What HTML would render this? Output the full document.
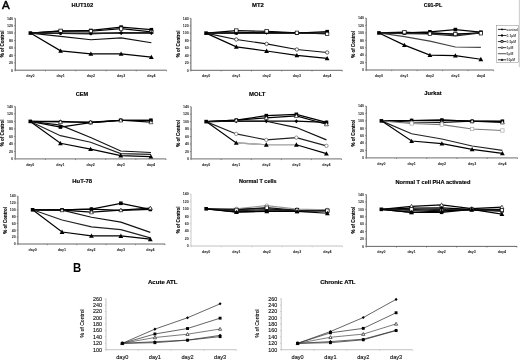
<!DOCTYPE html>
<html><head><meta charset="utf-8"><style>
html,body{margin:0;padding:0;background:#fff;}
svg{display:block;filter:grayscale(1) blur(0.3px);}
text{font-family:"Liberation Sans", sans-serif;}
</style></head><body>
<svg width="520" height="360" viewBox="0 0 520 360">
<rect width="520" height="360" fill="#fff"/>
<path d="M15.25 18.2V70.2" fill="none" stroke="#333" stroke-width="0.8"/>
<path d="M15.25 70.2H166.5" fill="none" stroke="#555" stroke-width="0.9"/>
<path d="M14.05 70.2H15.25" stroke="#555" stroke-width="0.6"/>
<text x="13.05" y="71.5" font-size="3.6" font-weight="bold" text-anchor="end" fill="#222" >0</text>
<path d="M14.05 62.77H15.25" stroke="#555" stroke-width="0.6"/>
<text x="13.05" y="64.07" font-size="3.6" font-weight="bold" text-anchor="end" fill="#222" >20</text>
<path d="M14.05 55.34H15.25" stroke="#555" stroke-width="0.6"/>
<text x="13.05" y="56.64" font-size="3.6" font-weight="bold" text-anchor="end" fill="#222" >40</text>
<path d="M14.05 47.91H15.25" stroke="#555" stroke-width="0.6"/>
<text x="13.05" y="49.21" font-size="3.6" font-weight="bold" text-anchor="end" fill="#222" >60</text>
<path d="M14.05 40.49H15.25" stroke="#555" stroke-width="0.6"/>
<text x="13.05" y="41.79" font-size="3.6" font-weight="bold" text-anchor="end" fill="#222" >80</text>
<path d="M14.05 33.06H15.25" stroke="#555" stroke-width="0.6"/>
<text x="13.05" y="34.36" font-size="3.6" font-weight="bold" text-anchor="end" fill="#222" >100</text>
<path d="M14.05 25.63H15.25" stroke="#555" stroke-width="0.6"/>
<text x="13.05" y="26.93" font-size="3.6" font-weight="bold" text-anchor="end" fill="#222" >120</text>
<path d="M14.05 18.2H15.25" stroke="#555" stroke-width="0.6"/>
<text x="13.05" y="19.5" font-size="3.6" font-weight="bold" text-anchor="end" fill="#222" >140</text>
<path d="M15.25 70.2V71.4" stroke="#555" stroke-width="0.6"/>
<path d="M45.5 70.2V71.4" stroke="#555" stroke-width="0.6"/>
<path d="M75.75 70.2V71.4" stroke="#555" stroke-width="0.6"/>
<path d="M106 70.2V71.4" stroke="#555" stroke-width="0.6"/>
<path d="M136.25 70.2V71.4" stroke="#555" stroke-width="0.6"/>
<path d="M166.5 70.2V71.4" stroke="#555" stroke-width="0.6"/>
<text x="30.38" y="77.1" font-size="3.6" font-weight="bold" text-anchor="middle" fill="#111" >day0</text>
<text x="60.62" y="77.1" font-size="3.6" font-weight="bold" text-anchor="middle" fill="#111" >day1</text>
<text x="90.88" y="77.1" font-size="3.6" font-weight="bold" text-anchor="middle" fill="#111" >day2</text>
<text x="121.12" y="77.1" font-size="3.6" font-weight="bold" text-anchor="middle" fill="#111" >day3</text>
<text x="151.38" y="77.1" font-size="3.6" font-weight="bold" text-anchor="middle" fill="#111" >day4</text>
<text x="71.6" y="7.35" font-size="5.9" font-weight="bold" text-anchor="start" fill="#000" stroke="#000" stroke-width="0.15" textLength="21.6" lengthAdjust="spacingAndGlyphs">HUT102</text>
<text x="4.15" y="44" font-size="4.5" font-weight="bold" text-anchor="middle" fill="#000" transform="rotate(-90 4.15 44)" stroke="#000" stroke-width="0.12">% of Control</text>
<polyline points="30.38,33.06 60.62,33.06 90.88,33.06 121.12,33.06 151.38,33.06" fill="none" stroke="#000" stroke-width="1.25"/>
<polyline points="30.38,33.06 60.62,31.2 90.88,30.46 121.12,27.11 151.38,29.71" fill="none" stroke="#000" stroke-width="1.25"/>
<polyline points="30.38,33.06 60.62,30.83 90.88,31.2 121.12,28.6 151.38,31.94" fill="none" stroke="#000" stroke-width="1.15"/>
<polyline points="30.38,33.06 60.62,36.4 90.88,39.74 121.12,37.89 151.38,42.71" fill="none" stroke="#111" stroke-width="1.15"/>
<polyline points="30.38,33.06 60.62,33.43 90.88,33.8 121.12,32.69 151.38,32.69" fill="none" stroke="#222" stroke-width="1.15"/>
<polyline points="30.38,33.06 60.62,50.89 90.88,53.86 121.12,53.86 151.38,57.2" fill="none" stroke="#000" stroke-width="1.2"/>
<path d="M60.62 31.16L62.52 33.06L60.62 34.96L58.73 33.06Z" fill="#000"/>
<path d="M90.88 31.16L92.78 33.06L90.88 34.96L88.97 33.06Z" fill="#000"/>
<path d="M121.12 31.16L123.03 33.06L121.12 34.96L119.22 33.06Z" fill="#000"/>
<path d="M151.38 31.16L153.28 33.06L151.38 34.96L149.47 33.06Z" fill="#000"/>
<rect x="58.83" y="29.4" width="3.6" height="3.6" fill="#000"/>
<rect x="89.08" y="28.66" width="3.6" height="3.6" fill="#000"/>
<rect x="119.33" y="25.31" width="3.6" height="3.6" fill="#000"/>
<rect x="149.57" y="27.91" width="3.6" height="3.6" fill="#000"/>
<rect x="58.92" y="29.13" width="3.4" height="3.4" fill="#fff" stroke="#000" stroke-width="0.7"/>
<rect x="89.17" y="29.5" width="3.4" height="3.4" fill="#fff" stroke="#000" stroke-width="0.7"/>
<rect x="119.42" y="26.9" width="3.4" height="3.4" fill="#fff" stroke="#000" stroke-width="0.7"/>
<rect x="149.68" y="30.24" width="3.4" height="3.4" fill="#fff" stroke="#000" stroke-width="0.7"/>
<circle cx="60.62" cy="33.43" r="1.5" fill="#000"/>
<circle cx="90.88" cy="33.8" r="1.5" fill="#000"/>
<circle cx="121.12" cy="32.69" r="1.5" fill="#000"/>
<circle cx="151.38" cy="32.69" r="1.5" fill="#000"/>
<path d="M60.62 48.49L63.02 52.81L58.23 52.81Z" fill="#000"/>
<path d="M90.88 51.46L93.28 55.78L88.47 55.78Z" fill="#000"/>
<path d="M121.12 51.46L123.53 55.78L118.72 55.78Z" fill="#000"/>
<path d="M151.38 54.8L153.78 59.12L148.97 59.12Z" fill="#000"/>
<rect x="28.57" y="31.26" width="3.6" height="3.6" fill="#000"/>
<path d="M190.9 18.3V70.3" fill="none" stroke="#333" stroke-width="0.8"/>
<path d="M190.9 70.3H342.3" fill="none" stroke="#555" stroke-width="0.9"/>
<path d="M189.7 70.3H190.9" stroke="#555" stroke-width="0.6"/>
<text x="188.7" y="71.6" font-size="3.6" font-weight="bold" text-anchor="end" fill="#222" >0</text>
<path d="M189.7 62.87H190.9" stroke="#555" stroke-width="0.6"/>
<text x="188.7" y="64.17" font-size="3.6" font-weight="bold" text-anchor="end" fill="#222" >20</text>
<path d="M189.7 55.44H190.9" stroke="#555" stroke-width="0.6"/>
<text x="188.7" y="56.74" font-size="3.6" font-weight="bold" text-anchor="end" fill="#222" >40</text>
<path d="M189.7 48.01H190.9" stroke="#555" stroke-width="0.6"/>
<text x="188.7" y="49.31" font-size="3.6" font-weight="bold" text-anchor="end" fill="#222" >60</text>
<path d="M189.7 40.59H190.9" stroke="#555" stroke-width="0.6"/>
<text x="188.7" y="41.89" font-size="3.6" font-weight="bold" text-anchor="end" fill="#222" >80</text>
<path d="M189.7 33.16H190.9" stroke="#555" stroke-width="0.6"/>
<text x="188.7" y="34.46" font-size="3.6" font-weight="bold" text-anchor="end" fill="#222" >100</text>
<path d="M189.7 25.73H190.9" stroke="#555" stroke-width="0.6"/>
<text x="188.7" y="27.03" font-size="3.6" font-weight="bold" text-anchor="end" fill="#222" >120</text>
<path d="M189.7 18.3H190.9" stroke="#555" stroke-width="0.6"/>
<text x="188.7" y="19.6" font-size="3.6" font-weight="bold" text-anchor="end" fill="#222" >140</text>
<path d="M190.9 70.3V71.5" stroke="#555" stroke-width="0.6"/>
<path d="M221.18 70.3V71.5" stroke="#555" stroke-width="0.6"/>
<path d="M251.46 70.3V71.5" stroke="#555" stroke-width="0.6"/>
<path d="M281.74 70.3V71.5" stroke="#555" stroke-width="0.6"/>
<path d="M312.02 70.3V71.5" stroke="#555" stroke-width="0.6"/>
<path d="M342.3 70.3V71.5" stroke="#555" stroke-width="0.6"/>
<text x="206.04" y="77.2" font-size="3.6" font-weight="bold" text-anchor="middle" fill="#111" >day0</text>
<text x="236.32" y="77.2" font-size="3.6" font-weight="bold" text-anchor="middle" fill="#111" >day1</text>
<text x="266.6" y="77.2" font-size="3.6" font-weight="bold" text-anchor="middle" fill="#111" >day2</text>
<text x="296.88" y="77.2" font-size="3.6" font-weight="bold" text-anchor="middle" fill="#111" >day3</text>
<text x="327.16" y="77.2" font-size="3.6" font-weight="bold" text-anchor="middle" fill="#111" >day4</text>
<text x="252" y="7.35" font-size="5.9" font-weight="bold" text-anchor="start" fill="#000" stroke="#000" stroke-width="0.15" textLength="11.9" lengthAdjust="spacingAndGlyphs">MT2</text>
<text x="179.8" y="43.8" font-size="4.5" font-weight="bold" text-anchor="middle" fill="#000" transform="rotate(-90 179.8 43.8)" stroke="#000" stroke-width="0.12">% of Control</text>
<polyline points="206.04,33.16 236.32,33.16 266.6,32.79 296.88,33.16 327.16,33.16" fill="none" stroke="#000" stroke-width="1.25"/>
<polyline points="206.04,33.16 236.32,32.79 266.6,32.04 296.88,33.16 327.16,31.67" fill="none" stroke="#000" stroke-width="1.25"/>
<polyline points="206.04,33.16 236.32,30.56 266.6,31.3 296.88,32.79 327.16,33.9" fill="none" stroke="#000" stroke-width="1.15"/>
<polyline points="206.04,33.16 236.32,39.47 266.6,43.93 296.88,49.5 327.16,52.47" fill="none" stroke="#111" stroke-width="1.15"/>
<polyline points="206.04,33.16 236.32,33.53 266.6,33.16 296.88,33.53 327.16,33.16" fill="none" stroke="#222" stroke-width="1.15"/>
<polyline points="206.04,33.16 236.32,46.9 266.6,50.99 296.88,55.44 327.16,58.41" fill="none" stroke="#000" stroke-width="1.2"/>
<path d="M236.32 31.26L238.22 33.16L236.32 35.06L234.42 33.16Z" fill="#000"/>
<path d="M266.6 30.89L268.5 32.79L266.6 34.69L264.7 32.79Z" fill="#000"/>
<path d="M296.88 31.26L298.78 33.16L296.88 35.06L294.98 33.16Z" fill="#000"/>
<path d="M327.16 31.26L329.06 33.16L327.16 35.06L325.26 33.16Z" fill="#000"/>
<rect x="234.52" y="30.99" width="3.6" height="3.6" fill="#000"/>
<rect x="264.8" y="30.24" width="3.6" height="3.6" fill="#000"/>
<rect x="295.08" y="31.36" width="3.6" height="3.6" fill="#000"/>
<rect x="325.36" y="29.87" width="3.6" height="3.6" fill="#000"/>
<rect x="234.62" y="28.86" width="3.4" height="3.4" fill="#fff" stroke="#000" stroke-width="0.7"/>
<rect x="264.9" y="29.6" width="3.4" height="3.4" fill="#fff" stroke="#000" stroke-width="0.7"/>
<rect x="295.18" y="31.09" width="3.4" height="3.4" fill="#fff" stroke="#000" stroke-width="0.7"/>
<rect x="325.46" y="32.2" width="3.4" height="3.4" fill="#fff" stroke="#000" stroke-width="0.7"/>
<circle cx="236.32" cy="39.47" r="1.7" fill="#fff" stroke="#000" stroke-width="0.6"/>
<circle cx="266.6" cy="43.93" r="1.7" fill="#fff" stroke="#000" stroke-width="0.6"/>
<circle cx="296.88" cy="49.5" r="1.7" fill="#fff" stroke="#000" stroke-width="0.6"/>
<circle cx="327.16" cy="52.47" r="1.7" fill="#fff" stroke="#000" stroke-width="0.6"/>
<path d="M236.32 44.5L238.72 48.82L233.92 48.82Z" fill="#000"/>
<path d="M266.6 48.59L269 52.91L264.2 52.91Z" fill="#000"/>
<path d="M296.88 53.04L299.28 57.36L294.48 57.36Z" fill="#000"/>
<path d="M327.16 56.01L329.56 60.33L324.76 60.33Z" fill="#000"/>
<rect x="204.24" y="31.36" width="3.6" height="3.6" fill="#000"/>
<path d="M366.2 18.1V70" fill="none" stroke="#333" stroke-width="0.8"/>
<path d="M366.2 70H493.6" fill="none" stroke="#555" stroke-width="0.9"/>
<path d="M365 70H366.2" stroke="#555" stroke-width="0.6"/>
<text x="364" y="71.3" font-size="3.6" font-weight="bold" text-anchor="end" fill="#222" >0</text>
<path d="M365 62.59H366.2" stroke="#555" stroke-width="0.6"/>
<text x="364" y="63.89" font-size="3.6" font-weight="bold" text-anchor="end" fill="#222" >20</text>
<path d="M365 55.17H366.2" stroke="#555" stroke-width="0.6"/>
<text x="364" y="56.47" font-size="3.6" font-weight="bold" text-anchor="end" fill="#222" >40</text>
<path d="M365 47.76H366.2" stroke="#555" stroke-width="0.6"/>
<text x="364" y="49.06" font-size="3.6" font-weight="bold" text-anchor="end" fill="#222" >60</text>
<path d="M365 40.34H366.2" stroke="#555" stroke-width="0.6"/>
<text x="364" y="41.64" font-size="3.6" font-weight="bold" text-anchor="end" fill="#222" >80</text>
<path d="M365 32.93H366.2" stroke="#555" stroke-width="0.6"/>
<text x="364" y="34.23" font-size="3.6" font-weight="bold" text-anchor="end" fill="#222" >100</text>
<path d="M365 25.51H366.2" stroke="#555" stroke-width="0.6"/>
<text x="364" y="26.81" font-size="3.6" font-weight="bold" text-anchor="end" fill="#222" >120</text>
<path d="M365 18.1H366.2" stroke="#555" stroke-width="0.6"/>
<text x="364" y="19.4" font-size="3.6" font-weight="bold" text-anchor="end" fill="#222" >140</text>
<path d="M366.2 70V71.2" stroke="#555" stroke-width="0.6"/>
<path d="M391.68 70V71.2" stroke="#555" stroke-width="0.6"/>
<path d="M417.16 70V71.2" stroke="#555" stroke-width="0.6"/>
<path d="M442.64 70V71.2" stroke="#555" stroke-width="0.6"/>
<path d="M468.12 70V71.2" stroke="#555" stroke-width="0.6"/>
<path d="M493.6 70V71.2" stroke="#555" stroke-width="0.6"/>
<text x="378.94" y="76.9" font-size="3.6" font-weight="bold" text-anchor="middle" fill="#111" >day0</text>
<text x="404.42" y="76.9" font-size="3.6" font-weight="bold" text-anchor="middle" fill="#111" >day1</text>
<text x="429.9" y="76.9" font-size="3.6" font-weight="bold" text-anchor="middle" fill="#111" >day2</text>
<text x="455.38" y="76.9" font-size="3.6" font-weight="bold" text-anchor="middle" fill="#111" >day3</text>
<text x="480.86" y="76.9" font-size="3.6" font-weight="bold" text-anchor="middle" fill="#111" >day4</text>
<text x="423.8" y="7.35" font-size="5.9" font-weight="bold" text-anchor="start" fill="#000" stroke="#000" stroke-width="0.15" textLength="18.4" lengthAdjust="spacingAndGlyphs">C91-PL</text>
<text x="355.1" y="44.3" font-size="4.5" font-weight="bold" text-anchor="middle" fill="#000" transform="rotate(-90 355.1 44.3)" stroke="#000" stroke-width="0.12">% of Control</text>
<polyline points="378.94,32.93 404.42,32.93 429.9,32.56 455.38,34.41 480.86,32.56" fill="none" stroke="#000" stroke-width="1.25"/>
<polyline points="378.94,32.93 404.42,32.93 429.9,31.82 455.38,29.59 480.86,32.19" fill="none" stroke="#000" stroke-width="1.25"/>
<polyline points="378.94,32.93 404.42,32.19 429.9,33.67 455.38,34.04 480.86,33.3" fill="none" stroke="#000" stroke-width="1.15"/>
<polyline points="378.94,32.93 404.42,36.64 429.9,41.08 455.38,47.02 480.86,47.39" fill="none" stroke="#444" stroke-width="1.15"/>
<polyline points="378.94,32.93 404.42,33.67 429.9,34.04 455.38,35.89 480.86,32.93" fill="none" stroke="#222" stroke-width="1.15"/>
<polyline points="378.94,32.93 404.42,45.16 429.9,55.17 455.38,55.54 480.86,59.25" fill="none" stroke="#000" stroke-width="1.2"/>
<path d="M404.42 31.03L406.32 32.93L404.42 34.83L402.52 32.93Z" fill="#000"/>
<path d="M429.9 30.66L431.8 32.56L429.9 34.46L428 32.56Z" fill="#000"/>
<path d="M455.38 32.51L457.28 34.41L455.38 36.31L453.48 34.41Z" fill="#000"/>
<path d="M480.86 30.66L482.76 32.56L480.86 34.46L478.96 32.56Z" fill="#000"/>
<rect x="402.62" y="31.13" width="3.6" height="3.6" fill="#000"/>
<rect x="428.1" y="30.02" width="3.6" height="3.6" fill="#000"/>
<rect x="453.58" y="27.79" width="3.6" height="3.6" fill="#000"/>
<rect x="479.06" y="30.39" width="3.6" height="3.6" fill="#000"/>
<rect x="402.72" y="30.49" width="3.4" height="3.4" fill="#fff" stroke="#000" stroke-width="0.7"/>
<rect x="428.2" y="31.97" width="3.4" height="3.4" fill="#fff" stroke="#000" stroke-width="0.7"/>
<rect x="453.68" y="32.34" width="3.4" height="3.4" fill="#fff" stroke="#000" stroke-width="0.7"/>
<rect x="479.16" y="31.6" width="3.4" height="3.4" fill="#fff" stroke="#000" stroke-width="0.7"/>
<path d="M404.42 42.76L406.82 47.08L402.02 47.08Z" fill="#000"/>
<path d="M429.9 52.77L432.3 57.09L427.5 57.09Z" fill="#000"/>
<path d="M455.38 53.14L457.78 57.46L452.98 57.46Z" fill="#000"/>
<path d="M480.86 56.85L483.26 61.17L478.46 61.17Z" fill="#000"/>
<rect x="377.14" y="31.13" width="3.6" height="3.6" fill="#000"/>
<path d="M15.2 106.4V158.9" fill="none" stroke="#333" stroke-width="0.8"/>
<path d="M15.2 158.9H166" fill="none" stroke="#8a8a8a" stroke-width="1.4"/>
<path d="M14 158.9H15.2" stroke="#555" stroke-width="0.6"/>
<text x="13" y="160.2" font-size="3.6" font-weight="bold" text-anchor="end" fill="#222" >0</text>
<path d="M14 151.4H15.2" stroke="#555" stroke-width="0.6"/>
<text x="13" y="152.7" font-size="3.6" font-weight="bold" text-anchor="end" fill="#222" >20</text>
<path d="M14 143.9H15.2" stroke="#555" stroke-width="0.6"/>
<text x="13" y="145.2" font-size="3.6" font-weight="bold" text-anchor="end" fill="#222" >40</text>
<path d="M14 136.4H15.2" stroke="#555" stroke-width="0.6"/>
<text x="13" y="137.7" font-size="3.6" font-weight="bold" text-anchor="end" fill="#222" >60</text>
<path d="M14 128.9H15.2" stroke="#555" stroke-width="0.6"/>
<text x="13" y="130.2" font-size="3.6" font-weight="bold" text-anchor="end" fill="#222" >80</text>
<path d="M14 121.4H15.2" stroke="#555" stroke-width="0.6"/>
<text x="13" y="122.7" font-size="3.6" font-weight="bold" text-anchor="end" fill="#222" >100</text>
<path d="M14 113.9H15.2" stroke="#555" stroke-width="0.6"/>
<text x="13" y="115.2" font-size="3.6" font-weight="bold" text-anchor="end" fill="#222" >120</text>
<path d="M14 106.4H15.2" stroke="#555" stroke-width="0.6"/>
<text x="13" y="107.7" font-size="3.6" font-weight="bold" text-anchor="end" fill="#222" >140</text>
<path d="M15.2 158.9V160.1" stroke="#555" stroke-width="0.6"/>
<path d="M45.36 158.9V160.1" stroke="#555" stroke-width="0.6"/>
<path d="M75.52 158.9V160.1" stroke="#555" stroke-width="0.6"/>
<path d="M105.68 158.9V160.1" stroke="#555" stroke-width="0.6"/>
<path d="M135.84 158.9V160.1" stroke="#555" stroke-width="0.6"/>
<path d="M166 158.9V160.1" stroke="#555" stroke-width="0.6"/>
<text x="30.28" y="165.8" font-size="3.6" font-weight="bold" text-anchor="middle" fill="#111" >day0</text>
<text x="60.44" y="165.8" font-size="3.6" font-weight="bold" text-anchor="middle" fill="#111" >day1</text>
<text x="90.6" y="165.8" font-size="3.6" font-weight="bold" text-anchor="middle" fill="#111" >day2</text>
<text x="120.76" y="165.8" font-size="3.6" font-weight="bold" text-anchor="middle" fill="#111" >day3</text>
<text x="150.92" y="165.8" font-size="3.6" font-weight="bold" text-anchor="middle" fill="#111" >day4</text>
<text x="75.8" y="95.9" font-size="5.9" font-weight="bold" text-anchor="start" fill="#000" stroke="#000" stroke-width="0.15" textLength="12.4" lengthAdjust="spacingAndGlyphs">CEM</text>
<text x="4.1" y="133" font-size="4.5" font-weight="bold" text-anchor="middle" fill="#000" transform="rotate(-90 4.1 133)" stroke="#000" stroke-width="0.12">% of Control</text>
<polyline points="30.28,121.4 60.44,121.4 90.6,122.53 120.76,120.28 150.92,120.28" fill="none" stroke="#000" stroke-width="1.25"/>
<polyline points="30.28,121.4 60.44,127.03 90.6,122.53 120.76,120.28 150.92,120.28" fill="none" stroke="#000" stroke-width="1.25"/>
<polyline points="30.28,121.4 60.44,121.96 90.6,122.15 120.76,120.28 150.92,122.15" fill="none" stroke="#000" stroke-width="1.15"/>
<polyline points="30.28,121.4 60.44,125.15 90.6,137.53 120.76,151.03 150.92,152.53" fill="none" stroke="#111" stroke-width="1.15"/>
<polyline points="30.28,121.4 60.44,135.65 90.6,142.18 120.76,153.65 150.92,154.4" fill="none" stroke="#222" stroke-width="1.15"/>
<polyline points="30.28,121.4 60.44,143.3 90.6,149.15 120.76,155.53 150.92,156.65" fill="none" stroke="#000" stroke-width="1.2"/>
<path d="M60.44 119.5L62.34 121.4L60.44 123.3L58.54 121.4Z" fill="#000"/>
<path d="M90.6 120.62L92.5 122.53L90.6 124.43L88.7 122.53Z" fill="#000"/>
<path d="M120.76 118.38L122.66 120.28L120.76 122.18L118.86 120.28Z" fill="#000"/>
<path d="M150.92 118.38L152.82 120.28L150.92 122.18L149.02 120.28Z" fill="#000"/>
<rect x="58.64" y="125.23" width="3.6" height="3.6" fill="#000"/>
<rect x="88.8" y="120.73" width="3.6" height="3.6" fill="#000"/>
<rect x="118.96" y="118.48" width="3.6" height="3.6" fill="#000"/>
<rect x="149.12" y="118.48" width="3.6" height="3.6" fill="#000"/>
<path d="M60.44 119.96L62.44 123.56L58.44 123.56Z" fill="#fff" stroke="#000" stroke-width="0.6"/>
<path d="M90.6 120.15L92.6 123.75L88.6 123.75Z" fill="#fff" stroke="#000" stroke-width="0.6"/>
<path d="M120.76 118.28L122.76 121.88L118.76 121.88Z" fill="#fff" stroke="#000" stroke-width="0.6"/>
<path d="M150.92 120.15L152.92 123.75L148.92 123.75Z" fill="#fff" stroke="#000" stroke-width="0.6"/>
<path d="M60.44 140.9L62.84 145.22L58.04 145.22Z" fill="#000"/>
<path d="M90.6 146.75L93 151.07L88.2 151.07Z" fill="#000"/>
<path d="M120.76 153.12L123.16 157.44L118.36 157.44Z" fill="#000"/>
<path d="M150.92 154.25L153.32 158.57L148.52 158.57Z" fill="#000"/>
<rect x="28.48" y="119.6" width="3.6" height="3.6" fill="#000"/>
<path d="M191.1 106.7V158.9" fill="none" stroke="#333" stroke-width="0.8"/>
<path d="M191.1 158.9H341.5" fill="none" stroke="#8a8a8a" stroke-width="1.4"/>
<path d="M189.9 158.9H191.1" stroke="#555" stroke-width="0.6"/>
<text x="188.9" y="160.2" font-size="3.6" font-weight="bold" text-anchor="end" fill="#222" >0</text>
<path d="M189.9 151.44H191.1" stroke="#555" stroke-width="0.6"/>
<text x="188.9" y="152.74" font-size="3.6" font-weight="bold" text-anchor="end" fill="#222" >20</text>
<path d="M189.9 143.99H191.1" stroke="#555" stroke-width="0.6"/>
<text x="188.9" y="145.29" font-size="3.6" font-weight="bold" text-anchor="end" fill="#222" >40</text>
<path d="M189.9 136.53H191.1" stroke="#555" stroke-width="0.6"/>
<text x="188.9" y="137.83" font-size="3.6" font-weight="bold" text-anchor="end" fill="#222" >60</text>
<path d="M189.9 129.07H191.1" stroke="#555" stroke-width="0.6"/>
<text x="188.9" y="130.37" font-size="3.6" font-weight="bold" text-anchor="end" fill="#222" >80</text>
<path d="M189.9 121.61H191.1" stroke="#555" stroke-width="0.6"/>
<text x="188.9" y="122.91" font-size="3.6" font-weight="bold" text-anchor="end" fill="#222" >100</text>
<path d="M189.9 114.16H191.1" stroke="#555" stroke-width="0.6"/>
<text x="188.9" y="115.46" font-size="3.6" font-weight="bold" text-anchor="end" fill="#222" >120</text>
<path d="M189.9 106.7H191.1" stroke="#555" stroke-width="0.6"/>
<text x="188.9" y="108" font-size="3.6" font-weight="bold" text-anchor="end" fill="#222" >140</text>
<path d="M191.1 158.9V160.1" stroke="#555" stroke-width="0.6"/>
<path d="M221.18 158.9V160.1" stroke="#555" stroke-width="0.6"/>
<path d="M251.26 158.9V160.1" stroke="#555" stroke-width="0.6"/>
<path d="M281.34 158.9V160.1" stroke="#555" stroke-width="0.6"/>
<path d="M311.42 158.9V160.1" stroke="#555" stroke-width="0.6"/>
<path d="M341.5 158.9V160.1" stroke="#555" stroke-width="0.6"/>
<text x="206.14" y="165.8" font-size="3.6" font-weight="bold" text-anchor="middle" fill="#111" >day0</text>
<text x="236.22" y="165.8" font-size="3.6" font-weight="bold" text-anchor="middle" fill="#111" >day1</text>
<text x="266.3" y="165.8" font-size="3.6" font-weight="bold" text-anchor="middle" fill="#111" >day2</text>
<text x="296.38" y="165.8" font-size="3.6" font-weight="bold" text-anchor="middle" fill="#111" >day3</text>
<text x="326.46" y="165.8" font-size="3.6" font-weight="bold" text-anchor="middle" fill="#111" >day4</text>
<text x="249.1" y="95.6" font-size="5.9" font-weight="bold" text-anchor="start" fill="#000" stroke="#000" stroke-width="0.15" textLength="16.4" lengthAdjust="spacingAndGlyphs">MOLT</text>
<text x="180" y="133.4" font-size="4.5" font-weight="bold" text-anchor="middle" fill="#000" transform="rotate(-90 180 133.4)" stroke="#000" stroke-width="0.12">% of Control</text>
<polyline points="206.14,121.61 236.22,121.24 266.3,121.24 296.38,121.24 326.46,122.36" fill="none" stroke="#000" stroke-width="1.25"/>
<polyline points="206.14,121.61 236.22,120.12 266.3,115.65 296.38,114.34 326.46,122.36" fill="none" stroke="#000" stroke-width="1.25"/>
<polyline points="206.14,121.61 236.22,120.12 266.3,117.89 296.38,115.84 326.46,124.22" fill="none" stroke="#000" stroke-width="1.15"/>
<polyline points="206.14,121.61 236.22,121.24 266.3,121.24 296.38,127.58 326.46,139.88" fill="none" stroke="#111" stroke-width="1.15"/>
<polyline points="206.14,121.61 236.22,133.92 266.3,139.88 296.38,137.65 326.46,145.85" fill="none" stroke="#222" stroke-width="1.15"/>
<polyline points="206.14,121.61 236.22,142.87 266.3,144.73 296.38,144.73 326.46,153.68" fill="none" stroke="#000" stroke-width="1.2"/>
<polyline points="236.22,142.87 266.3,144.73 296.38,144.73" fill="none" stroke="#fff" stroke-width="1.3"/>
<polyline points="236.22,142.87 266.3,144.73 296.38,144.73" fill="none" stroke="#888" stroke-width="0.8"/>
<path d="M236.22 119.34L238.12 121.24L236.22 123.14L234.32 121.24Z" fill="#000"/>
<path d="M266.3 119.34L268.2 121.24L266.3 123.14L264.4 121.24Z" fill="#000"/>
<path d="M296.38 119.34L298.28 121.24L296.38 123.14L294.48 121.24Z" fill="#000"/>
<path d="M326.46 120.46L328.36 122.36L326.46 124.26L324.56 122.36Z" fill="#000"/>
<rect x="234.42" y="118.32" width="3.6" height="3.6" fill="#000"/>
<rect x="264.5" y="113.85" width="3.6" height="3.6" fill="#000"/>
<rect x="294.58" y="112.54" width="3.6" height="3.6" fill="#000"/>
<rect x="324.66" y="120.56" width="3.6" height="3.6" fill="#000"/>
<path d="M236.22 118.12L238.22 121.72L234.22 121.72Z" fill="#fff" stroke="#000" stroke-width="0.6"/>
<path d="M266.3 115.89L268.3 119.49L264.3 119.49Z" fill="#fff" stroke="#000" stroke-width="0.6"/>
<path d="M296.38 113.84L298.38 117.44L294.38 117.44Z" fill="#fff" stroke="#000" stroke-width="0.6"/>
<path d="M326.46 122.22L328.46 125.82L324.46 125.82Z" fill="#fff" stroke="#000" stroke-width="0.6"/>
<circle cx="236.22" cy="133.92" r="1.7" fill="#fff" stroke="#555" stroke-width="0.6"/>
<circle cx="266.3" cy="139.88" r="1.7" fill="#fff" stroke="#555" stroke-width="0.6"/>
<circle cx="296.38" cy="137.65" r="1.7" fill="#fff" stroke="#555" stroke-width="0.6"/>
<circle cx="326.46" cy="145.85" r="1.7" fill="#fff" stroke="#555" stroke-width="0.6"/>
<path d="M236.22 140.47L238.62 144.79L233.82 144.79Z" fill="#000"/>
<path d="M266.3 142.33L268.7 146.65L263.9 146.65Z" fill="#000"/>
<path d="M296.38 142.33L298.78 146.65L293.98 146.65Z" fill="#000"/>
<path d="M326.46 151.28L328.86 155.6L324.06 155.6Z" fill="#000"/>
<rect x="204.34" y="119.81" width="3.6" height="3.6" fill="#000"/>
<path d="M366.25 106.1V157.8" fill="none" stroke="#333" stroke-width="0.8"/>
<path d="M366.25 157.8H517.5" fill="none" stroke="#8a8a8a" stroke-width="1.3"/>
<path d="M365.05 157.8H366.25" stroke="#555" stroke-width="0.6"/>
<text x="364.05" y="159.1" font-size="3.6" font-weight="bold" text-anchor="end" fill="#222" >0</text>
<path d="M365.05 150.41H366.25" stroke="#555" stroke-width="0.6"/>
<text x="364.05" y="151.71" font-size="3.6" font-weight="bold" text-anchor="end" fill="#222" >20</text>
<path d="M365.05 143.03H366.25" stroke="#555" stroke-width="0.6"/>
<text x="364.05" y="144.33" font-size="3.6" font-weight="bold" text-anchor="end" fill="#222" >40</text>
<path d="M365.05 135.64H366.25" stroke="#555" stroke-width="0.6"/>
<text x="364.05" y="136.94" font-size="3.6" font-weight="bold" text-anchor="end" fill="#222" >60</text>
<path d="M365.05 128.26H366.25" stroke="#555" stroke-width="0.6"/>
<text x="364.05" y="129.56" font-size="3.6" font-weight="bold" text-anchor="end" fill="#222" >80</text>
<path d="M365.05 120.87H366.25" stroke="#555" stroke-width="0.6"/>
<text x="364.05" y="122.17" font-size="3.6" font-weight="bold" text-anchor="end" fill="#222" >100</text>
<path d="M365.05 113.49H366.25" stroke="#555" stroke-width="0.6"/>
<text x="364.05" y="114.79" font-size="3.6" font-weight="bold" text-anchor="end" fill="#222" >120</text>
<path d="M365.05 106.1H366.25" stroke="#555" stroke-width="0.6"/>
<text x="364.05" y="107.4" font-size="3.6" font-weight="bold" text-anchor="end" fill="#222" >140</text>
<path d="M366.25 157.8V159" stroke="#555" stroke-width="0.6"/>
<path d="M396.5 157.8V159" stroke="#555" stroke-width="0.6"/>
<path d="M426.75 157.8V159" stroke="#555" stroke-width="0.6"/>
<path d="M457 157.8V159" stroke="#555" stroke-width="0.6"/>
<path d="M487.25 157.8V159" stroke="#555" stroke-width="0.6"/>
<path d="M517.5 157.8V159" stroke="#555" stroke-width="0.6"/>
<text x="381.38" y="164.7" font-size="3.6" font-weight="bold" text-anchor="middle" fill="#111" >day0</text>
<text x="411.62" y="164.7" font-size="3.6" font-weight="bold" text-anchor="middle" fill="#111" >day1</text>
<text x="441.88" y="164.7" font-size="3.6" font-weight="bold" text-anchor="middle" fill="#111" >day2</text>
<text x="472.12" y="164.7" font-size="3.6" font-weight="bold" text-anchor="middle" fill="#111" >day3</text>
<text x="502.38" y="164.7" font-size="3.6" font-weight="bold" text-anchor="middle" fill="#111" >day4</text>
<text x="424.3" y="95.15" font-size="5.9" font-weight="bold" text-anchor="start" fill="#000" stroke="#000" stroke-width="0.15" textLength="17.4" lengthAdjust="spacingAndGlyphs">Jurkat</text>
<text x="355.15" y="133" font-size="4.5" font-weight="bold" text-anchor="middle" fill="#000" transform="rotate(-90 355.15 133)" stroke="#000" stroke-width="0.12">% of Control</text>
<polyline points="381.38,120.87 411.62,120.5 441.88,120.13 472.12,121.24 502.38,121.61" fill="none" stroke="#000" stroke-width="1.25"/>
<polyline points="381.38,120.87 411.62,120.5 441.88,120.13 472.12,121.24 502.38,121.24" fill="none" stroke="#000" stroke-width="1.25"/>
<polyline points="381.38,120.87 411.62,121.98 441.88,122.35 472.12,121.24 502.38,122.35" fill="none" stroke="#000" stroke-width="1.15"/>
<polyline points="381.38,120.87 411.62,123.46 441.88,124.56 472.12,129 502.38,130.47" fill="none" stroke="#777" stroke-width="1.15"/>
<polyline points="381.38,120.87 411.62,133.8 441.88,138.97 472.12,145.98 502.38,150.41" fill="none" stroke="#222" stroke-width="1.15"/>
<polyline points="381.38,120.87 411.62,141.03 441.88,143.62 472.12,149.31 502.38,153.37" fill="none" stroke="#000" stroke-width="1.2"/>
<path d="M411.62 118.6L413.52 120.5L411.62 122.4L409.73 120.5Z" fill="#000"/>
<path d="M441.88 118.23L443.77 120.13L441.88 122.03L439.98 120.13Z" fill="#000"/>
<path d="M472.12 119.34L474.02 121.24L472.12 123.14L470.23 121.24Z" fill="#000"/>
<path d="M502.38 119.71L504.27 121.61L502.38 123.51L500.48 121.61Z" fill="#000"/>
<rect x="409.82" y="118.7" width="3.6" height="3.6" fill="#000"/>
<rect x="440.07" y="118.33" width="3.6" height="3.6" fill="#000"/>
<rect x="470.32" y="119.44" width="3.6" height="3.6" fill="#000"/>
<rect x="500.57" y="119.44" width="3.6" height="3.6" fill="#000"/>
<path d="M411.62 119.98L413.62 123.58L409.62 123.58Z" fill="#fff" stroke="#000" stroke-width="0.6"/>
<path d="M441.88 120.35L443.88 123.95L439.88 123.95Z" fill="#fff" stroke="#000" stroke-width="0.6"/>
<path d="M472.12 119.24L474.12 122.84L470.12 122.84Z" fill="#fff" stroke="#000" stroke-width="0.6"/>
<path d="M502.38 120.35L504.38 123.95L500.38 123.95Z" fill="#fff" stroke="#000" stroke-width="0.6"/>
<rect x="409.93" y="121.76" width="3.4" height="3.4" fill="#fff" stroke="#aaa" stroke-width="0.7"/>
<rect x="440.18" y="122.86" width="3.4" height="3.4" fill="#fff" stroke="#aaa" stroke-width="0.7"/>
<rect x="470.43" y="127.3" width="3.4" height="3.4" fill="#fff" stroke="#aaa" stroke-width="0.7"/>
<rect x="500.68" y="128.77" width="3.4" height="3.4" fill="#fff" stroke="#aaa" stroke-width="0.7"/>
<path d="M411.62 138.63L414.02 142.95L409.23 142.95Z" fill="#000"/>
<path d="M441.88 141.22L444.27 145.54L439.48 145.54Z" fill="#000"/>
<path d="M472.12 146.91L474.52 151.23L469.73 151.23Z" fill="#000"/>
<path d="M502.38 150.97L504.77 155.29L499.98 155.29Z" fill="#000"/>
<rect x="379.57" y="119.07" width="3.6" height="3.6" fill="#000"/>
<path d="M17.9 196.1V244" fill="none" stroke="#333" stroke-width="0.8"/>
<path d="M17.9 244H165" fill="none" stroke="#555" stroke-width="0.9"/>
<path d="M16.7 244H17.9" stroke="#555" stroke-width="0.6"/>
<text x="15.7" y="245.3" font-size="3.6" font-weight="bold" text-anchor="end" fill="#222" >0</text>
<path d="M16.7 237.16H17.9" stroke="#555" stroke-width="0.6"/>
<text x="15.7" y="238.46" font-size="3.6" font-weight="bold" text-anchor="end" fill="#222" >20</text>
<path d="M16.7 230.31H17.9" stroke="#555" stroke-width="0.6"/>
<text x="15.7" y="231.61" font-size="3.6" font-weight="bold" text-anchor="end" fill="#222" >40</text>
<path d="M16.7 223.47H17.9" stroke="#555" stroke-width="0.6"/>
<text x="15.7" y="224.77" font-size="3.6" font-weight="bold" text-anchor="end" fill="#222" >60</text>
<path d="M16.7 216.63H17.9" stroke="#555" stroke-width="0.6"/>
<text x="15.7" y="217.93" font-size="3.6" font-weight="bold" text-anchor="end" fill="#222" >80</text>
<path d="M16.7 209.79H17.9" stroke="#555" stroke-width="0.6"/>
<text x="15.7" y="211.09" font-size="3.6" font-weight="bold" text-anchor="end" fill="#222" >100</text>
<path d="M16.7 202.94H17.9" stroke="#555" stroke-width="0.6"/>
<text x="15.7" y="204.24" font-size="3.6" font-weight="bold" text-anchor="end" fill="#222" >120</text>
<path d="M16.7 196.1H17.9" stroke="#555" stroke-width="0.6"/>
<text x="15.7" y="197.4" font-size="3.6" font-weight="bold" text-anchor="end" fill="#222" >140</text>
<path d="M17.9 244V245.2" stroke="#555" stroke-width="0.6"/>
<path d="M47.32 244V245.2" stroke="#555" stroke-width="0.6"/>
<path d="M76.74 244V245.2" stroke="#555" stroke-width="0.6"/>
<path d="M106.16 244V245.2" stroke="#555" stroke-width="0.6"/>
<path d="M135.58 244V245.2" stroke="#555" stroke-width="0.6"/>
<path d="M165 244V245.2" stroke="#555" stroke-width="0.6"/>
<text x="32.61" y="250.9" font-size="3.6" font-weight="bold" text-anchor="middle" fill="#111" >day0</text>
<text x="62.03" y="250.9" font-size="3.6" font-weight="bold" text-anchor="middle" fill="#111" >day1</text>
<text x="91.45" y="250.9" font-size="3.6" font-weight="bold" text-anchor="middle" fill="#111" >day2</text>
<text x="120.87" y="250.9" font-size="3.6" font-weight="bold" text-anchor="middle" fill="#111" >day3</text>
<text x="150.29" y="250.9" font-size="3.6" font-weight="bold" text-anchor="middle" fill="#111" >day4</text>
<text x="72.3" y="183.35" font-size="5.9" font-weight="bold" text-anchor="start" fill="#000" stroke="#000" stroke-width="0.15" textLength="19.7" lengthAdjust="spacingAndGlyphs">HuT-78</text>
<text x="6.8" y="220.5" font-size="4.5" font-weight="bold" text-anchor="middle" fill="#000" transform="rotate(-90 6.8 220.5)" stroke="#000" stroke-width="0.12">% of Control</text>
<polyline points="32.61,209.79 62.03,209.79 91.45,209.1 120.87,210.47 150.29,209.44" fill="none" stroke="#000" stroke-width="1.25"/>
<polyline points="32.61,209.79 62.03,209.79 91.45,209.1 120.87,203.28 150.29,209.44" fill="none" stroke="#000" stroke-width="1.25"/>
<polyline points="32.61,209.79 62.03,210.13 91.45,212.18 120.87,210.13 150.29,208.07" fill="none" stroke="#000" stroke-width="1.15"/>
<polyline points="32.61,209.79 62.03,210.13 91.45,217.31 120.87,222.1 150.29,232.37" fill="none" stroke="#111" stroke-width="1.15"/>
<polyline points="32.61,209.79 62.03,220.05 91.45,226.89 120.87,229.63 150.29,237.84" fill="none" stroke="#222" stroke-width="1.15"/>
<polyline points="32.61,209.79 62.03,232.03 91.45,235.79 120.87,235.96 150.29,239.21" fill="none" stroke="#000" stroke-width="1.2"/>
<path d="M62.03 207.89L63.93 209.79L62.03 211.69L60.13 209.79Z" fill="#000"/>
<path d="M91.45 207.2L93.35 209.1L91.45 211L89.55 209.1Z" fill="#000"/>
<path d="M120.87 208.57L122.77 210.47L120.87 212.37L118.97 210.47Z" fill="#000"/>
<path d="M150.29 207.54L152.19 209.44L150.29 211.34L148.39 209.44Z" fill="#000"/>
<rect x="60.23" y="207.99" width="3.6" height="3.6" fill="#000"/>
<rect x="89.65" y="207.3" width="3.6" height="3.6" fill="#000"/>
<rect x="119.07" y="201.48" width="3.6" height="3.6" fill="#000"/>
<rect x="148.49" y="207.64" width="3.6" height="3.6" fill="#000"/>
<path d="M62.03 208.13L64.03 211.73L60.03 211.73Z" fill="#fff" stroke="#000" stroke-width="0.6"/>
<path d="M91.45 210.18L93.45 213.78L89.45 213.78Z" fill="#fff" stroke="#000" stroke-width="0.6"/>
<path d="M120.87 208.13L122.87 211.73L118.87 211.73Z" fill="#fff" stroke="#000" stroke-width="0.6"/>
<path d="M150.29 206.07L152.29 209.67L148.29 209.67Z" fill="#fff" stroke="#000" stroke-width="0.6"/>
<path d="M62.03 229.62L64.43 233.94L59.63 233.94Z" fill="#000"/>
<path d="M91.45 233.39L93.85 237.71L89.05 237.71Z" fill="#000"/>
<path d="M120.87 233.56L123.27 237.88L118.47 237.88Z" fill="#000"/>
<path d="M150.29 236.81L152.69 241.13L147.89 241.13Z" fill="#000"/>
<rect x="30.81" y="207.99" width="3.6" height="3.6" fill="#000"/>
<path d="M191 193.9V246" fill="none" stroke="#bbb" stroke-width="0.8"/>
<path d="M191 246H342.5" fill="none" stroke="#bbb" stroke-width="0.9"/>
<path d="M189.8 246H191" stroke="#bbb" stroke-width="0.6"/>
<text x="188.8" y="247.3" font-size="3.6" font-weight="bold" text-anchor="end" fill="#222" >0</text>
<path d="M189.8 238.56H191" stroke="#bbb" stroke-width="0.6"/>
<text x="188.8" y="239.86" font-size="3.6" font-weight="bold" text-anchor="end" fill="#222" >20</text>
<path d="M189.8 231.11H191" stroke="#bbb" stroke-width="0.6"/>
<text x="188.8" y="232.41" font-size="3.6" font-weight="bold" text-anchor="end" fill="#222" >40</text>
<path d="M189.8 223.67H191" stroke="#bbb" stroke-width="0.6"/>
<text x="188.8" y="224.97" font-size="3.6" font-weight="bold" text-anchor="end" fill="#222" >60</text>
<path d="M189.8 216.23H191" stroke="#bbb" stroke-width="0.6"/>
<text x="188.8" y="217.53" font-size="3.6" font-weight="bold" text-anchor="end" fill="#222" >80</text>
<path d="M189.8 208.79H191" stroke="#bbb" stroke-width="0.6"/>
<text x="188.8" y="210.09" font-size="3.6" font-weight="bold" text-anchor="end" fill="#222" >100</text>
<path d="M189.8 201.34H191" stroke="#bbb" stroke-width="0.6"/>
<text x="188.8" y="202.64" font-size="3.6" font-weight="bold" text-anchor="end" fill="#222" >120</text>
<path d="M189.8 193.9H191" stroke="#bbb" stroke-width="0.6"/>
<text x="188.8" y="195.2" font-size="3.6" font-weight="bold" text-anchor="end" fill="#222" >140</text>
<path d="M191 246V247.2" stroke="#bbb" stroke-width="0.6"/>
<path d="M221.3 246V247.2" stroke="#bbb" stroke-width="0.6"/>
<path d="M251.6 246V247.2" stroke="#bbb" stroke-width="0.6"/>
<path d="M281.9 246V247.2" stroke="#bbb" stroke-width="0.6"/>
<path d="M312.2 246V247.2" stroke="#bbb" stroke-width="0.6"/>
<path d="M342.5 246V247.2" stroke="#bbb" stroke-width="0.6"/>
<text x="206.15" y="252.9" font-size="3.6" font-weight="bold" text-anchor="middle" fill="#111" >day0</text>
<text x="236.45" y="252.9" font-size="3.6" font-weight="bold" text-anchor="middle" fill="#111" >day1</text>
<text x="266.75" y="252.9" font-size="3.6" font-weight="bold" text-anchor="middle" fill="#111" >day2</text>
<text x="297.05" y="252.9" font-size="3.6" font-weight="bold" text-anchor="middle" fill="#111" >day3</text>
<text x="327.35" y="252.9" font-size="3.6" font-weight="bold" text-anchor="middle" fill="#111" >day4</text>
<text x="239" y="183.45" font-size="5.9" font-weight="bold" text-anchor="start" fill="#000" stroke="#000" stroke-width="0.15" textLength="37.6" lengthAdjust="spacingAndGlyphs">Normal T cells</text>
<text x="179.9" y="219.8" font-size="4.5" font-weight="bold" text-anchor="middle" fill="#000" transform="rotate(-90 179.9 219.8)" stroke="#000" stroke-width="0.12">% of Control</text>
<polyline points="206.15,208.79 236.45,208.79 266.75,208.79 297.05,210.65 327.35,209.9" fill="none" stroke="#000" stroke-width="1.25"/>
<polyline points="206.15,208.79 236.45,211.76 266.75,211.02 297.05,211.39 327.35,210.65" fill="none" stroke="#000" stroke-width="1.25"/>
<polyline points="206.15,208.79 236.45,208.79 266.75,205.59 297.05,209.16 327.35,209.9" fill="none" stroke="#999" stroke-width="1.15"/>
<polyline points="206.15,208.79 236.45,209.9 266.75,207.67 297.05,210.27 327.35,210.65" fill="none" stroke="#111" stroke-width="1.15"/>
<polyline points="206.15,208.79 236.45,210.65 266.75,209.9 297.05,210.65 327.35,211.02" fill="none" stroke="#222" stroke-width="1.15"/>
<polyline points="206.15,208.79 236.45,212.13 266.75,211.39 297.05,211.39 327.35,213.25" fill="none" stroke="#000" stroke-width="1.2"/>
<path d="M236.45 206.89L238.35 208.79L236.45 210.69L234.55 208.79Z" fill="#000"/>
<path d="M266.75 206.89L268.65 208.79L266.75 210.69L264.85 208.79Z" fill="#000"/>
<path d="M297.05 208.75L298.95 210.65L297.05 212.55L295.15 210.65Z" fill="#000"/>
<path d="M327.35 208L329.25 209.9L327.35 211.8L325.45 209.9Z" fill="#000"/>
<rect x="234.65" y="209.96" width="3.6" height="3.6" fill="#000"/>
<rect x="264.95" y="209.22" width="3.6" height="3.6" fill="#000"/>
<rect x="295.25" y="209.59" width="3.6" height="3.6" fill="#000"/>
<rect x="325.55" y="208.85" width="3.6" height="3.6" fill="#000"/>
<circle cx="236.45" cy="208.79" r="1.7" fill="#fff" stroke="#777" stroke-width="0.6"/>
<circle cx="266.75" cy="205.59" r="1.7" fill="#fff" stroke="#777" stroke-width="0.6"/>
<circle cx="297.05" cy="209.16" r="1.7" fill="#fff" stroke="#777" stroke-width="0.6"/>
<circle cx="327.35" cy="209.9" r="1.7" fill="#fff" stroke="#777" stroke-width="0.6"/>
<rect x="234.75" y="208.2" width="3.4" height="3.4" fill="#fff" stroke="#000" stroke-width="0.7"/>
<rect x="265.05" y="205.97" width="3.4" height="3.4" fill="#fff" stroke="#000" stroke-width="0.7"/>
<rect x="295.35" y="208.57" width="3.4" height="3.4" fill="#fff" stroke="#000" stroke-width="0.7"/>
<rect x="325.65" y="208.95" width="3.4" height="3.4" fill="#fff" stroke="#000" stroke-width="0.7"/>
<path d="M236.45 209.73L238.85 214.05L234.05 214.05Z" fill="#000"/>
<path d="M266.75 208.99L269.15 213.31L264.35 213.31Z" fill="#000"/>
<path d="M297.05 208.99L299.45 213.31L294.65 213.31Z" fill="#000"/>
<path d="M327.35 210.85L329.75 215.17L324.95 215.17Z" fill="#000"/>
<rect x="204.35" y="206.99" width="3.6" height="3.6" fill="#000"/>
<path d="M366.25 194.5V246.4" fill="none" stroke="#333" stroke-width="0.8"/>
<path d="M366.25 246.4H517" fill="none" stroke="#555" stroke-width="0.9"/>
<path d="M365.05 246.4H366.25" stroke="#555" stroke-width="0.6"/>
<text x="364.05" y="247.7" font-size="3.6" font-weight="bold" text-anchor="end" fill="#222" >0</text>
<path d="M365.05 238.99H366.25" stroke="#555" stroke-width="0.6"/>
<text x="364.05" y="240.29" font-size="3.6" font-weight="bold" text-anchor="end" fill="#222" >20</text>
<path d="M365.05 231.57H366.25" stroke="#555" stroke-width="0.6"/>
<text x="364.05" y="232.87" font-size="3.6" font-weight="bold" text-anchor="end" fill="#222" >40</text>
<path d="M365.05 224.16H366.25" stroke="#555" stroke-width="0.6"/>
<text x="364.05" y="225.46" font-size="3.6" font-weight="bold" text-anchor="end" fill="#222" >60</text>
<path d="M365.05 216.74H366.25" stroke="#555" stroke-width="0.6"/>
<text x="364.05" y="218.04" font-size="3.6" font-weight="bold" text-anchor="end" fill="#222" >80</text>
<path d="M365.05 209.33H366.25" stroke="#555" stroke-width="0.6"/>
<text x="364.05" y="210.63" font-size="3.6" font-weight="bold" text-anchor="end" fill="#222" >100</text>
<path d="M365.05 201.91H366.25" stroke="#555" stroke-width="0.6"/>
<text x="364.05" y="203.21" font-size="3.6" font-weight="bold" text-anchor="end" fill="#222" >120</text>
<path d="M365.05 194.5H366.25" stroke="#555" stroke-width="0.6"/>
<text x="364.05" y="195.8" font-size="3.6" font-weight="bold" text-anchor="end" fill="#222" >140</text>
<path d="M366.25 246.4V247.6" stroke="#555" stroke-width="0.6"/>
<path d="M396.4 246.4V247.6" stroke="#555" stroke-width="0.6"/>
<path d="M426.55 246.4V247.6" stroke="#555" stroke-width="0.6"/>
<path d="M456.7 246.4V247.6" stroke="#555" stroke-width="0.6"/>
<path d="M486.85 246.4V247.6" stroke="#555" stroke-width="0.6"/>
<path d="M517 246.4V247.6" stroke="#555" stroke-width="0.6"/>
<text x="381.32" y="253.3" font-size="3.6" font-weight="bold" text-anchor="middle" fill="#111" >day0</text>
<text x="411.48" y="253.3" font-size="3.6" font-weight="bold" text-anchor="middle" fill="#111" >day1</text>
<text x="441.62" y="253.3" font-size="3.6" font-weight="bold" text-anchor="middle" fill="#111" >day2</text>
<text x="471.77" y="253.3" font-size="3.6" font-weight="bold" text-anchor="middle" fill="#111" >day3</text>
<text x="501.92" y="253.3" font-size="3.6" font-weight="bold" text-anchor="middle" fill="#111" >day4</text>
<text x="395.5" y="183.8" font-size="5.9" font-weight="bold" text-anchor="start" fill="#000" stroke="#000" stroke-width="0.15" textLength="74.9" lengthAdjust="spacingAndGlyphs">Normal T cell PHA activated</text>
<text x="355.15" y="220" font-size="4.5" font-weight="bold" text-anchor="middle" fill="#000" transform="rotate(-90 355.15 220)" stroke="#000" stroke-width="0.12">% of Control</text>
<polyline points="381.32,209.33 411.48,208.22 441.62,207.85 471.77,209.33 501.92,209.33" fill="none" stroke="#000" stroke-width="1.25"/>
<polyline points="381.32,209.33 411.48,212.29 441.62,212.29 471.77,209.33 501.92,210.81" fill="none" stroke="#000" stroke-width="1.25"/>
<polyline points="381.32,209.33 411.48,206.36 441.62,204.88 471.77,208.59 501.92,207.1" fill="none" stroke="#000" stroke-width="1.15"/>
<polyline points="381.32,209.33 411.48,209.33 441.62,210.81 471.77,209.7 501.92,210.07" fill="none" stroke="#111" stroke-width="1.15"/>
<polyline points="381.32,209.33 411.48,210.44 441.62,209.33 471.77,210.07 501.92,211.18" fill="none" stroke="#222" stroke-width="1.15"/>
<polyline points="381.32,209.33 411.48,212.29 441.62,211.18 471.77,209.33 501.92,214.15" fill="none" stroke="#000" stroke-width="1.2"/>
<path d="M411.48 206.32L413.38 208.22L411.48 210.12L409.58 208.22Z" fill="#000"/>
<path d="M441.62 205.95L443.52 207.85L441.62 209.75L439.73 207.85Z" fill="#000"/>
<path d="M471.77 207.43L473.67 209.33L471.77 211.23L469.88 209.33Z" fill="#000"/>
<path d="M501.92 207.43L503.82 209.33L501.92 211.23L500.02 209.33Z" fill="#000"/>
<rect x="409.68" y="210.49" width="3.6" height="3.6" fill="#000"/>
<rect x="439.82" y="210.49" width="3.6" height="3.6" fill="#000"/>
<rect x="469.97" y="207.53" width="3.6" height="3.6" fill="#000"/>
<rect x="500.12" y="209.01" width="3.6" height="3.6" fill="#000"/>
<path d="M411.48 204.36L413.48 207.96L409.48 207.96Z" fill="#fff" stroke="#000" stroke-width="0.6"/>
<path d="M441.62 202.88L443.62 206.48L439.62 206.48Z" fill="#fff" stroke="#000" stroke-width="0.6"/>
<path d="M471.77 206.59L473.77 210.19L469.77 210.19Z" fill="#fff" stroke="#000" stroke-width="0.6"/>
<path d="M501.92 205.1L503.92 208.7L499.92 208.7Z" fill="#fff" stroke="#000" stroke-width="0.6"/>
<rect x="409.78" y="207.63" width="3.4" height="3.4" fill="#fff" stroke="#000" stroke-width="0.7"/>
<rect x="439.93" y="209.11" width="3.4" height="3.4" fill="#fff" stroke="#000" stroke-width="0.7"/>
<rect x="470.07" y="208" width="3.4" height="3.4" fill="#fff" stroke="#000" stroke-width="0.7"/>
<rect x="500.22" y="208.37" width="3.4" height="3.4" fill="#fff" stroke="#000" stroke-width="0.7"/>
<path d="M411.48 209.89L413.88 214.21L409.08 214.21Z" fill="#000"/>
<path d="M441.62 208.78L444.02 213.1L439.23 213.1Z" fill="#000"/>
<path d="M471.77 206.93L474.17 211.25L469.38 211.25Z" fill="#000"/>
<path d="M501.92 211.75L504.32 216.07L499.52 216.07Z" fill="#000"/>
<rect x="379.52" y="207.53" width="3.6" height="3.6" fill="#000"/>
<path d="M106 298.75V349.7H236.4" fill="none" stroke="#aaa" stroke-width="0.7"/>
<path d="M104.8 349.7H106" stroke="#aaa" stroke-width="0.5"/>
<text x="102.1" y="351.6" font-size="5.4" font-weight="normal" text-anchor="end" fill="#111" stroke="#111" stroke-width="0.12">100</text>
<path d="M104.8 343.33H106" stroke="#aaa" stroke-width="0.5"/>
<text x="102.1" y="345.23" font-size="5.4" font-weight="normal" text-anchor="end" fill="#111" stroke="#111" stroke-width="0.12">120</text>
<path d="M104.8 336.96H106" stroke="#aaa" stroke-width="0.5"/>
<text x="102.1" y="338.86" font-size="5.4" font-weight="normal" text-anchor="end" fill="#111" stroke="#111" stroke-width="0.12">140</text>
<path d="M104.8 330.59H106" stroke="#aaa" stroke-width="0.5"/>
<text x="102.1" y="332.49" font-size="5.4" font-weight="normal" text-anchor="end" fill="#111" stroke="#111" stroke-width="0.12">160</text>
<path d="M104.8 324.23H106" stroke="#aaa" stroke-width="0.5"/>
<text x="102.1" y="326.12" font-size="5.4" font-weight="normal" text-anchor="end" fill="#111" stroke="#111" stroke-width="0.12">180</text>
<path d="M104.8 317.86H106" stroke="#aaa" stroke-width="0.5"/>
<text x="102.1" y="319.76" font-size="5.4" font-weight="normal" text-anchor="end" fill="#111" stroke="#111" stroke-width="0.12">200</text>
<path d="M104.8 311.49H106" stroke="#aaa" stroke-width="0.5"/>
<text x="102.1" y="313.39" font-size="5.4" font-weight="normal" text-anchor="end" fill="#111" stroke="#111" stroke-width="0.12">220</text>
<path d="M104.8 305.12H106" stroke="#aaa" stroke-width="0.5"/>
<text x="102.1" y="307.02" font-size="5.4" font-weight="normal" text-anchor="end" fill="#111" stroke="#111" stroke-width="0.12">240</text>
<path d="M104.8 298.75H106" stroke="#aaa" stroke-width="0.5"/>
<text x="102.1" y="300.65" font-size="5.4" font-weight="normal" text-anchor="end" fill="#111" stroke="#111" stroke-width="0.12">260</text>
<path d="M106 349.7V350.9" stroke="#aaa" stroke-width="0.5"/>
<path d="M138.6 349.7V350.9" stroke="#aaa" stroke-width="0.5"/>
<path d="M171.2 349.7V350.9" stroke="#aaa" stroke-width="0.5"/>
<path d="M203.8 349.7V350.9" stroke="#aaa" stroke-width="0.5"/>
<path d="M236.4 349.7V350.9" stroke="#aaa" stroke-width="0.5"/>
<text x="122.3" y="358.7" font-size="5.6" font-weight="normal" text-anchor="middle" fill="#111" stroke="#111" stroke-width="0.12">day0</text>
<text x="154.9" y="358.7" font-size="5.6" font-weight="normal" text-anchor="middle" fill="#111" stroke="#111" stroke-width="0.12">day1</text>
<text x="187.5" y="358.7" font-size="5.6" font-weight="normal" text-anchor="middle" fill="#111" stroke="#111" stroke-width="0.12">day2</text>
<text x="220.1" y="358.7" font-size="5.6" font-weight="normal" text-anchor="middle" fill="#111" stroke="#111" stroke-width="0.12">day3</text>
<text x="148" y="283.5" font-size="5.4" font-weight="bold" text-anchor="start" fill="#000" textLength="29.5" lengthAdjust="spacingAndGlyphs" stroke="#000" stroke-width="0.15">Acute ATL</text>
<text x="84.1" y="323.4" font-size="5.8" font-weight="normal" text-anchor="middle" fill="#000" transform="rotate(-90 84.1 323.4)" stroke="#000" stroke-width="0.15" textLength="28" lengthAdjust="spacingAndGlyphs">% of Control</text>
<polyline points="122.3,343.33 154.9,329.13 187.5,317.76 220.1,303.85" fill="none" stroke="#333" stroke-width="0.75"/>
<polyline points="122.3,343.33 154.9,333.97 187.5,328.52 220.1,318.17" fill="none" stroke="#333" stroke-width="0.75"/>
<polyline points="122.3,343.33 154.9,337.5 187.5,334.19 220.1,329" fill="none" stroke="#444" stroke-width="0.7"/>
<polyline points="122.3,343.33 154.9,341.74 187.5,340.15 220.1,335.37" fill="none" stroke="#333" stroke-width="0.75"/>
<polyline points="122.3,343.33 154.9,342.69 187.5,340.15 220.1,336.64" fill="none" stroke="#333" stroke-width="0.75"/>
<path d="M122.3 341.81L123.82 343.33L122.3 344.85L120.78 343.33Z" fill="#000"/>
<path d="M154.9 327.61L156.42 329.13L154.9 330.65L153.38 329.13Z" fill="#000"/>
<path d="M187.5 316.24L189.02 317.76L187.5 319.28L185.98 317.76Z" fill="#000"/>
<path d="M220.1 302.33L221.62 303.85L220.1 305.37L218.58 303.85Z" fill="#000"/>
<rect x="120.86" y="341.89" width="2.88" height="2.88" fill="#000"/>
<rect x="153.46" y="332.53" width="2.88" height="2.88" fill="#000"/>
<rect x="186.06" y="327.08" width="2.88" height="2.88" fill="#000"/>
<rect x="218.66" y="316.73" width="2.88" height="2.88" fill="#000"/>
<path d="M122.3 341.73L123.9 344.61L120.7 344.61Z" fill="#fff" stroke="#000" stroke-width="0.6"/>
<path d="M154.9 335.9L156.5 338.78L153.3 338.78Z" fill="#fff" stroke="#000" stroke-width="0.6"/>
<path d="M187.5 332.59L189.1 335.47L185.9 335.47Z" fill="#fff" stroke="#000" stroke-width="0.6"/>
<path d="M220.1 327.4L221.7 330.28L218.5 330.28Z" fill="#fff" stroke="#000" stroke-width="0.6"/>
<path d="M122.3 341.81L123.82 343.33L122.3 344.85L120.78 343.33Z" fill="#000"/>
<path d="M154.9 340.22L156.42 341.74L154.9 343.26L153.38 341.74Z" fill="#000"/>
<path d="M187.5 338.63L189.02 340.15L187.5 341.67L185.98 340.15Z" fill="#000"/>
<path d="M220.1 333.85L221.62 335.37L220.1 336.89L218.58 335.37Z" fill="#000"/>
<rect x="120.86" y="341.89" width="2.88" height="2.88" fill="#000"/>
<rect x="153.46" y="341.25" width="2.88" height="2.88" fill="#000"/>
<rect x="186.06" y="338.71" width="2.88" height="2.88" fill="#000"/>
<rect x="218.66" y="335.2" width="2.88" height="2.88" fill="#000"/>
<path d="M281.2 298.75V349.7H412.5" fill="none" stroke="#aaa" stroke-width="0.7"/>
<path d="M280 349.7H281.2" stroke="#aaa" stroke-width="0.5"/>
<text x="277.3" y="351.6" font-size="5.4" font-weight="normal" text-anchor="end" fill="#111" stroke="#111" stroke-width="0.12">100</text>
<path d="M280 343.33H281.2" stroke="#aaa" stroke-width="0.5"/>
<text x="277.3" y="345.23" font-size="5.4" font-weight="normal" text-anchor="end" fill="#111" stroke="#111" stroke-width="0.12">120</text>
<path d="M280 336.96H281.2" stroke="#aaa" stroke-width="0.5"/>
<text x="277.3" y="338.86" font-size="5.4" font-weight="normal" text-anchor="end" fill="#111" stroke="#111" stroke-width="0.12">140</text>
<path d="M280 330.59H281.2" stroke="#aaa" stroke-width="0.5"/>
<text x="277.3" y="332.49" font-size="5.4" font-weight="normal" text-anchor="end" fill="#111" stroke="#111" stroke-width="0.12">160</text>
<path d="M280 324.23H281.2" stroke="#aaa" stroke-width="0.5"/>
<text x="277.3" y="326.12" font-size="5.4" font-weight="normal" text-anchor="end" fill="#111" stroke="#111" stroke-width="0.12">180</text>
<path d="M280 317.86H281.2" stroke="#aaa" stroke-width="0.5"/>
<text x="277.3" y="319.76" font-size="5.4" font-weight="normal" text-anchor="end" fill="#111" stroke="#111" stroke-width="0.12">200</text>
<path d="M280 311.49H281.2" stroke="#aaa" stroke-width="0.5"/>
<text x="277.3" y="313.39" font-size="5.4" font-weight="normal" text-anchor="end" fill="#111" stroke="#111" stroke-width="0.12">220</text>
<path d="M280 305.12H281.2" stroke="#aaa" stroke-width="0.5"/>
<text x="277.3" y="307.02" font-size="5.4" font-weight="normal" text-anchor="end" fill="#111" stroke="#111" stroke-width="0.12">240</text>
<path d="M280 298.75H281.2" stroke="#aaa" stroke-width="0.5"/>
<text x="277.3" y="300.65" font-size="5.4" font-weight="normal" text-anchor="end" fill="#111" stroke="#111" stroke-width="0.12">260</text>
<path d="M281.2 349.7V350.9" stroke="#aaa" stroke-width="0.5"/>
<path d="M314.02 349.7V350.9" stroke="#aaa" stroke-width="0.5"/>
<path d="M346.85 349.7V350.9" stroke="#aaa" stroke-width="0.5"/>
<path d="M379.68 349.7V350.9" stroke="#aaa" stroke-width="0.5"/>
<path d="M412.5 349.7V350.9" stroke="#aaa" stroke-width="0.5"/>
<text x="297.61" y="358.7" font-size="5.6" font-weight="normal" text-anchor="middle" fill="#111" stroke="#111" stroke-width="0.12">day0</text>
<text x="330.44" y="358.7" font-size="5.6" font-weight="normal" text-anchor="middle" fill="#111" stroke="#111" stroke-width="0.12">day1</text>
<text x="363.26" y="358.7" font-size="5.6" font-weight="normal" text-anchor="middle" fill="#111" stroke="#111" stroke-width="0.12">day2</text>
<text x="396.09" y="358.7" font-size="5.6" font-weight="normal" text-anchor="middle" fill="#111" stroke="#111" stroke-width="0.12">day3</text>
<text x="320.2" y="283.5" font-size="5.4" font-weight="bold" text-anchor="start" fill="#000" textLength="35.3" lengthAdjust="spacingAndGlyphs" stroke="#000" stroke-width="0.15">Chronic ATL</text>
<text x="259.1" y="323.4" font-size="5.8" font-weight="normal" text-anchor="middle" fill="#000" transform="rotate(-90 259.1 323.4)" stroke="#000" stroke-width="0.15" textLength="28" lengthAdjust="spacingAndGlyphs">% of Control</text>
<polyline points="297.61,343.33 330.44,331.55 363.26,317.54 396.09,299.39" fill="none" stroke="#333" stroke-width="0.75"/>
<polyline points="297.61,343.33 330.44,332.82 363.26,328.36 396.09,312.76" fill="none" stroke="#333" stroke-width="0.75"/>
<polyline points="297.61,343.33 330.44,337.28 363.26,334.1 396.09,323.91" fill="none" stroke="#444" stroke-width="0.7"/>
<polyline points="297.61,343.33 330.44,341.58 363.26,339.19 396.09,330.28" fill="none" stroke="#333" stroke-width="0.75"/>
<polyline points="297.61,343.33 330.44,342.69 363.26,339.83 396.09,330.59" fill="none" stroke="#333" stroke-width="0.75"/>
<path d="M297.61 341.81L299.13 343.33L297.61 344.85L296.09 343.33Z" fill="#000"/>
<path d="M330.44 330.03L331.96 331.55L330.44 333.07L328.92 331.55Z" fill="#000"/>
<path d="M363.26 316.02L364.78 317.54L363.26 319.06L361.74 317.54Z" fill="#000"/>
<path d="M396.09 297.87L397.61 299.39L396.09 300.91L394.57 299.39Z" fill="#000"/>
<rect x="296.17" y="341.89" width="2.88" height="2.88" fill="#000"/>
<rect x="329" y="331.38" width="2.88" height="2.88" fill="#000"/>
<rect x="361.82" y="326.92" width="2.88" height="2.88" fill="#000"/>
<rect x="394.65" y="311.32" width="2.88" height="2.88" fill="#000"/>
<path d="M297.61 341.73L299.21 344.61L296.01 344.61Z" fill="#fff" stroke="#000" stroke-width="0.6"/>
<path d="M330.44 335.68L332.04 338.56L328.84 338.56Z" fill="#fff" stroke="#000" stroke-width="0.6"/>
<path d="M363.26 332.5L364.86 335.38L361.66 335.38Z" fill="#fff" stroke="#000" stroke-width="0.6"/>
<path d="M396.09 322.31L397.69 325.19L394.49 325.19Z" fill="#fff" stroke="#000" stroke-width="0.6"/>
<path d="M297.61 341.81L299.13 343.33L297.61 344.85L296.09 343.33Z" fill="#000"/>
<path d="M330.44 340.06L331.96 341.58L330.44 343.1L328.92 341.58Z" fill="#000"/>
<path d="M363.26 337.67L364.78 339.19L363.26 340.71L361.74 339.19Z" fill="#000"/>
<path d="M396.09 328.76L397.61 330.28L396.09 331.8L394.57 330.28Z" fill="#000"/>
<rect x="296.17" y="341.89" width="2.88" height="2.88" fill="#000"/>
<rect x="329" y="341.25" width="2.88" height="2.88" fill="#000"/>
<rect x="361.82" y="338.39" width="2.88" height="2.88" fill="#000"/>
<rect x="394.65" y="329.15" width="2.88" height="2.88" fill="#000"/>
<text x="1.9" y="8.75" font-size="10.6" font-weight="normal" text-anchor="start" fill="#000" stroke="#000" stroke-width="0.45" textLength="7.7" lengthAdjust="spacingAndGlyphs">A</text>
<text x="73" y="271.8" font-size="11.9" font-weight="bold" text-anchor="start" fill="#000" textLength="8.2" lengthAdjust="spacingAndGlyphs">B</text>
<rect x="496.3" y="25.7" width="22.3" height="37" fill="#fff" stroke="#888" stroke-width="0.5"/>
<path d="M497.9 29.4H506.3" stroke="#000" stroke-width="0.8"/>
<path d="M502 28.35L503.05 29.4L502 30.45L500.95 29.4Z" fill="#000"/>
<text x="506.6" y="30.6" font-size="3.4" font-weight="bold" text-anchor="start" fill="#444" >control</text>
<path d="M497.9 35.48H506.3" stroke="#000" stroke-width="0.8"/>
<rect x="501.01" y="34.49" width="1.98" height="1.98" fill="#000"/>
<text x="506.6" y="36.68" font-size="3.4" font-weight="bold" text-anchor="start" fill="#444" >0.1&#181;M</text>
<path d="M497.9 41.56H506.3" stroke="#000" stroke-width="0.8"/>
<rect x="501.06" y="40.62" width="1.87" height="1.87" fill="#fff" stroke="#000" stroke-width="0.7"/>
<text x="506.6" y="42.76" font-size="3.4" font-weight="bold" text-anchor="start" fill="#444" >0.5&#181;M</text>
<path d="M497.9 47.64H506.3" stroke="#111" stroke-width="0.8"/>
<circle cx="502" cy="47.64" r="0.94" fill="#fff" stroke="#000" stroke-width="0.6"/>
<text x="506.6" y="48.84" font-size="3.4" font-weight="bold" text-anchor="start" fill="#444" >1&#181;M</text>
<path d="M497.9 53.72H506.3" stroke="#222" stroke-width="0.8"/>
<text x="506.6" y="54.92" font-size="3.4" font-weight="bold" text-anchor="start" fill="#444" >5&#181;M</text>
<path d="M497.9 59.8H506.3" stroke="#000" stroke-width="0.8"/>
<path d="M502 58.48L503.32 60.86L500.68 60.86Z" fill="#000"/>
<text x="506.6" y="61" font-size="3.4" font-weight="bold" text-anchor="start" fill="#444" >10&#181;M</text>
<path d="M519.3 0V67" stroke="#bbb" stroke-width="0.8"/>
</svg>
</body></html>
